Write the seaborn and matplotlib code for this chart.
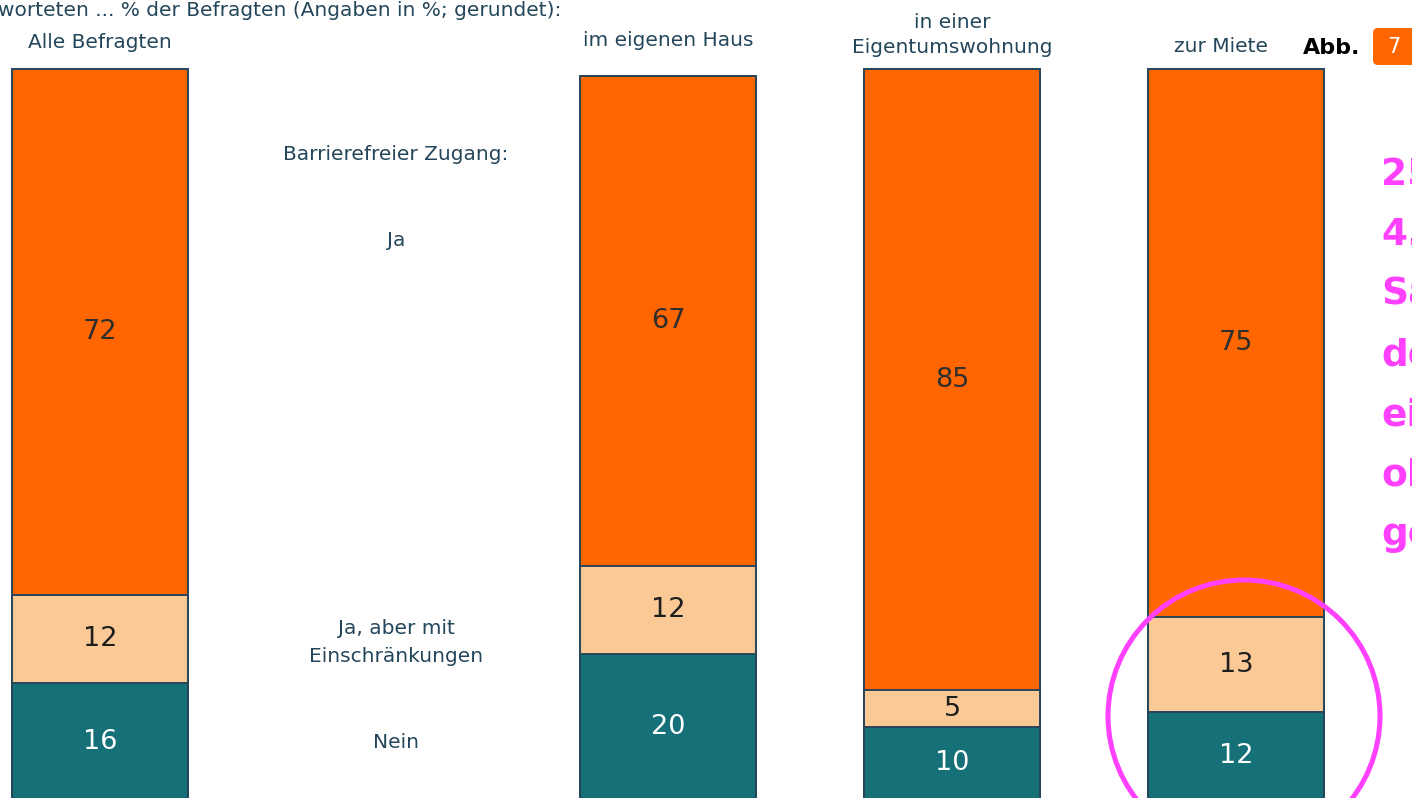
import numpy as np
import pandas as pd
import matplotlib
matplotlib.use("Agg")
import matplotlib.pyplot as plt
from matplotlib.patches import Ellipse, FancyBboxPatch
from matplotlib.transforms import IdentityTransform
import seaborn as sns

# data (Angaben in %)
gruppen = ["Alle Befragten", "im eigenen Haus", "in einer\nEigentumswohnung", "zur Miete"]
ja = [72, 67, 85, 75]
ja_einschr = [12, 12, 5, 13]
nein = [16, 20, 10, 12]
legende = ["Barrierefreier Zugang:", "Ja", "Ja, aber mit\nEinschränkungen", "Nein"]
titel = "worteten ... % der Befragten (Angaben in %; gerundet):"
randtext = ["25", "4.", "Sa", "de", "ei", "ob", "ge"]

ORANGE = "#ff6600"
PEACH = "#fbc995"
TEAL = "#157078"
EDGE = "#27455a"
TXT = "#24465a"
MAGENTA = "#ff40ff"

W, H = 1412, 798
sns.set_theme(style="white")
plt.rcParams["font.family"] = ["DejaVu Sans"]

fig = plt.figure(figsize=(W / 100, H / 100), dpi=100)
ax = fig.add_axes([0, 0, 1, 1])

# slot 1 is left free for the legend column in the middle
slots = [0, 2, 3, 4]
df = pd.DataFrame({"slot": slots, "gruppe": gruppen, "ja": ja,
                   "teil": ja_einschr, "nein": nein})
df["mitte"] = df["nein"] + df["teil"]
df["oben"] = df["mitte"] + df["ja"]

# stacked bars drawn as overlapping cumulative bars
for col, farbe in [("oben", ORANGE), ("mitte", PEACH), ("nein", TEAL)]:
    sns.barplot(data=df, x="slot", y=col, orient="x", native_scale=True,
                color=farbe, saturation=1, width=0.623, edgecolor=EDGE,
                linewidth=1.4, errorbar=None, ax=ax)

# value labels in the middle of each segment
for _, r in df.iterrows():
    ax.text(r["slot"], r["nein"] / 2, str(r["nein"]), ha="center", va="center",
            fontsize=19.5, color="white")
    ax.text(r["slot"], r["nein"] + r["teil"] / 2, str(r["teil"]), ha="center",
            va="center", fontsize=19.5, color="#1e1e1e")
    ax.text(r["slot"], r["mitte"] + r["ja"] / 2, str(r["ja"]), ha="center",
            va="center", fontsize=19.5, color="#2e2e2e")

# 284 px per slot, bar 1 centred at x=100 px; 7.31 px per percent, 0 % at y=800 px
ax.set_xlim(-100 / 284, (W - 100) / 284)
ax.set_ylim((800 - H) / 7.31, 800 / 7.31)
ax.axis("off")


def fx(px):
    return px / W


def fy(py):
    return 1 - py / H


# column headers
kopf_x = [100, 668, 952, 1221]
kopf_y = [42, 40, 35, 46]
for g, x, y in zip(gruppen, kopf_x, kopf_y):
    fig.text(fx(x), fy(y), g, ha="center", va="center", fontsize=14.5,
             color=TXT, linespacing=1.35)

# legend column
leg_y = [155, 240, 642, 742]
for t, y in zip(legende, leg_y):
    fig.text(fx(396), fy(y), t, ha="center", va="center", fontsize=14.5,
             color=TXT, linespacing=1.6)

fig.text(fx(-2), fy(10), titel, ha="left", va="center", fontsize=14.5, color=TXT)

# "Abb. 7" badge
fig.text(fx(1303), fy(48), "Abb.", ha="left", va="center", fontsize=16,
         fontweight="bold", color="black")
badge = FancyBboxPatch((1373, H - 65), 50, 37,
                       boxstyle="round,pad=0,rounding_size=5",
                       fc=ORANGE, ec="none", transform=IdentityTransform())
fig.patches.append(badge)
fig.text(fx(1394), fy(47), "7", ha="center", va="center", fontsize=15,
         color="white")

# magenta side note, cut off at the right edge like in the original
for i, t in enumerate(randtext):
    fig.text(fx(1381), fy(185 + 60 * i), t, ha="left", va="baseline",
             fontsize=27, fontweight="bold", color=MAGENTA)

kreis = Ellipse((1244, H - 716), 272, 272, fill=False, ec=MAGENTA, lw=3.6,
                transform=IdentityTransform())
fig.patches.append(kreis)

fig.savefig("out.png", dpi=100)
